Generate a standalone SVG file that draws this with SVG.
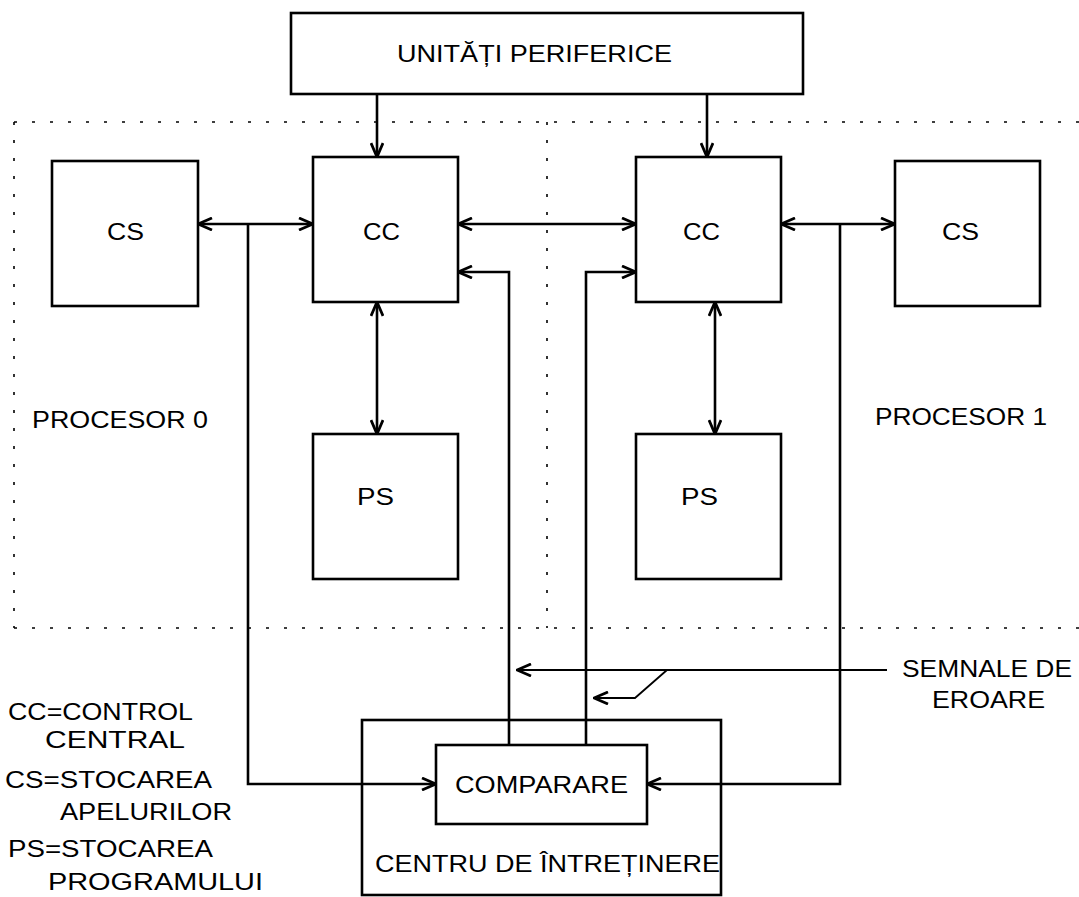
<svg xmlns="http://www.w3.org/2000/svg" width="1079" height="897" viewBox="0 0 1079 897">
  <style>
    .box { fill: #fff; stroke: #000; stroke-width: 2.6; }
    .ln { fill: none; stroke: #000; stroke-width: 2.6; }
    .thin { fill: none; stroke: #000; stroke-width: 1.8; }
    .dot { fill: none; stroke: #000; stroke-width: 1.6; stroke-dasharray: 3 15; }
    text { font-family: "Liberation Sans", Arial, sans-serif; font-size: 23px; fill: #000; }
    .abbr { font-size: 23px; }
  </style>
  <defs>
    <marker id="ah" viewBox="0 0 16 14" refX="15" refY="7" markerWidth="16" markerHeight="14" markerUnits="userSpaceOnUse" orient="auto-start-reverse">
      <path d="M1,1 L15,7 L1,13" fill="none" stroke="#000" stroke-width="2.8"/>
    </marker>
  </defs>

  <!-- processor boundaries -->
  <g id="boundaries">
    <path class="dot" d="M14,122 H1079 M14,628 H1079 M14,122 V628 M547,122 V628"/>
  </g>

  <g id="periferice">
    <rect class="box" x="291" y="13" width="512" height="81"/>
    <text x="397" y="62" font-size="25" textLength="275" lengthAdjust="spacingAndGlyphs">UNITĂȚI PERIFERICE</text>
  </g>

  <g id="cs0">
    <rect class="box" x="52" y="161" width="146" height="145"/>
    <text class="abbr" x="107" y="240" textLength="37" lengthAdjust="spacingAndGlyphs">CS</text>
  </g>
  <g id="cc0">
    <rect class="box" x="313" y="157" width="145" height="145"/>
    <text class="abbr" x="363" y="240" textLength="37" lengthAdjust="spacingAndGlyphs">CC</text>
  </g>
  <g id="cc1">
    <rect class="box" x="636" y="157" width="145" height="145"/>
    <text class="abbr" x="683" y="240" textLength="37" lengthAdjust="spacingAndGlyphs">CC</text>
  </g>
  <g id="cs1">
    <rect class="box" x="895" y="161" width="145" height="145"/>
    <text class="abbr" x="942" y="240" textLength="37" lengthAdjust="spacingAndGlyphs">CS</text>
  </g>
  <g id="ps0">
    <rect class="box" x="313" y="434" width="145" height="145"/>
    <text class="abbr" x="357" y="505" textLength="37" lengthAdjust="spacingAndGlyphs">PS</text>
  </g>
  <g id="ps1">
    <rect class="box" x="636" y="434" width="145" height="145"/>
    <text class="abbr" x="681" y="505" textLength="37" lengthAdjust="spacingAndGlyphs">PS</text>
  </g>

  <g id="procesor0">
    <text x="32" y="428" textLength="176" lengthAdjust="spacingAndGlyphs">PROCESOR 0</text>
  </g>
  <g id="procesor1">
    <text x="875" y="425" textLength="172" lengthAdjust="spacingAndGlyphs">PROCESOR 1</text>
  </g>

  <g id="semnale">
    <text x="902" y="677" textLength="170" lengthAdjust="spacingAndGlyphs">SEMNALE DE</text>
    <text x="932" y="708" textLength="113" lengthAdjust="spacingAndGlyphs">EROARE</text>
  </g>

  <g id="centru">
    <rect class="box" x="362" y="720" width="359" height="175"/>
    <text x="375" y="872" textLength="345" lengthAdjust="spacingAndGlyphs">CENTRU DE ÎNTREȚINERE</text>
  </g>
  <g id="comparare">
    <rect class="box" x="436" y="745" width="211" height="79"/>
    <text x="455" y="793" font-size="25" textLength="173" lengthAdjust="spacingAndGlyphs">COMPARARE</text>
  </g>

  <g id="legend">
    <text x="8" y="720" textLength="185" lengthAdjust="spacingAndGlyphs">CC=CONTROL</text>
    <text x="45" y="748" textLength="140" lengthAdjust="spacingAndGlyphs">CENTRAL</text>
    <text x="5" y="788" textLength="207" lengthAdjust="spacingAndGlyphs">CS=STOCAREA</text>
    <text x="60" y="820" textLength="172" lengthAdjust="spacingAndGlyphs">APELURILOR</text>
    <text x="8" y="857" textLength="205" lengthAdjust="spacingAndGlyphs">PS=STOCAREA</text>
    <text x="48" y="890" textLength="215" lengthAdjust="spacingAndGlyphs">PROGRAMULUI</text>
  </g>

  <!-- connectors, drawn last so they cross the maintenance-centre frame -->
  <g id="connectors">
    <!-- peripheral units to both control units -->
    <path class="ln" d="M377,94 V157" marker-end="url(#ah)"/>
    <path class="ln" d="M707,94 V157" marker-end="url(#ah)"/>
    <!-- CS <-> CC, processor 0 -->
    <path class="ln" d="M198,224 H313" marker-start="url(#ah)" marker-end="url(#ah)"/>
    <!-- CC <-> CC -->
    <path class="ln" d="M458,224 H636" marker-start="url(#ah)" marker-end="url(#ah)"/>
    <!-- CC <-> CS, processor 1 -->
    <path class="ln" d="M781,224 H895" marker-start="url(#ah)" marker-end="url(#ah)"/>
    <!-- CC <-> PS -->
    <path class="ln" d="M377,302 V434" marker-start="url(#ah)" marker-end="url(#ah)"/>
    <path class="ln" d="M715,302 V434" marker-start="url(#ah)" marker-end="url(#ah)"/>
    <!-- taps to the comparator -->
    <path class="ln" d="M248,224 V784 H436" marker-end="url(#ah)"/>
    <path class="ln" d="M840,224 V784 H647" marker-end="url(#ah)"/>
    <!-- comparator results back to control units -->
    <path class="ln" d="M509,745 V272 H458" marker-end="url(#ah)"/>
    <path class="ln" d="M586,745 V272 H636" marker-end="url(#ah)"/>
    <!-- error signals -->
    <path class="thin" d="M887,670 H517" marker-end="url(#ah)"/>
    <path class="thin" d="M667,670 L635,698 H594" marker-end="url(#ah)"/>
  </g>
</svg>
